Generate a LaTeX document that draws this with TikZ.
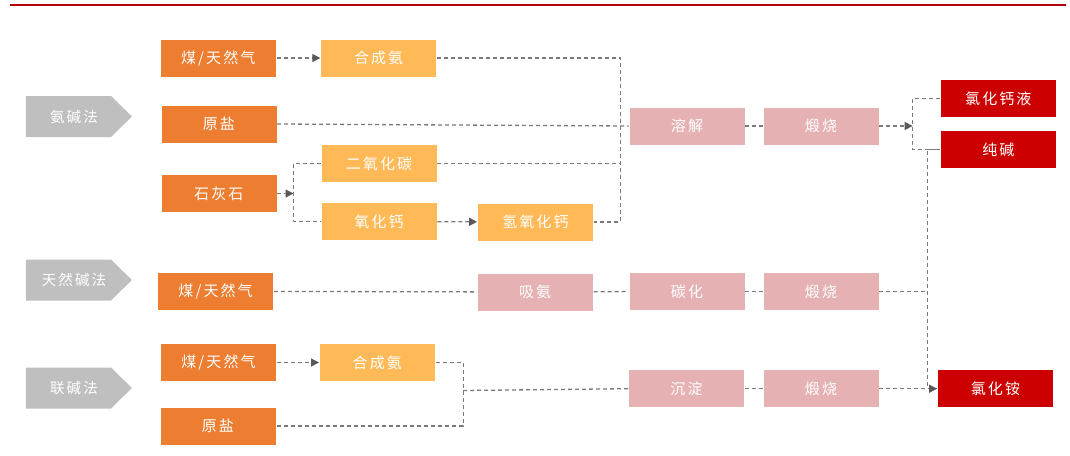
\documentclass[tikz,border=0pt]{standalone}
\usepackage{fontspec}
\newfontfamily\cjk[LetterSpace=14]{Noto Sans CJK SC}
\usetikzlibrary{arrows.meta}
\definecolor{cOrange}{HTML}{ED7D31}
\definecolor{cLight}{HTML}{FFB957}
\definecolor{cPink}{HTML}{E5B1B3}
\definecolor{cRed}{HTML}{CC0000}
\definecolor{cGray}{HTML}{BFBFBF}
\definecolor{cLine}{HTML}{7A7A7A}
\definecolor{cTip}{HTML}{595959}
\definecolor{cTop}{HTML}{B3000A}
\tikzset{
  box/.style={draw=white, line width=0.6pt, minimum width=116pt, minimum height=38pt,
    inner sep=0pt, text=white, font=\cjk\fontsize{15}{17}\selectfont},
  obox/.style={box, fill=cOrange},
  lbox/.style={box, fill=cLight},
  pbox/.style={box, fill=cPink},
  rbox/.style={box, fill=cRed},
  chevtext/.style={text=white, font=\cjk\fontsize{14.5}{16}\selectfont, inner sep=0pt},
  conn/.style={draw=cLine, line width=1.3pt, dash pattern=on 4pt off 3pt},
  arr/.style={conn, -{Triangle[length=8pt,width=8pt,color=cTip]}},
}
\begin{document}
\begin{tikzpicture}[x=1pt,y=-1pt]
\useasboundingbox (0,0) rectangle (1070,455);
% top rule
\draw[cTop, line width=2.6pt] (10,5) -- (1066,5);
% chevrons
\foreach \yc in {116.5, 280, 388}{
  \fill[cGray] (25.8,\yc-20.5) -- (111,\yc-20.5) -- (131.9,\yc) -- (111,\yc+20.5) -- (25.8,\yc+20.5) -- cycle;
}
\node[chevtext] (m1) at (74,116.5) {氨碱法};
\node[chevtext] (m2) at (74,280) {天然碱法};
\node[chevtext] (m3) at (74,388) {联碱法};
% row A
\node[obox] (a1) at (218.3,58) {煤/天然气};
\node[lbox] (a2) at (378.6,58) {合成氨};
\node[obox] (a3) at (218.8,124) {原盐};
\node[lbox] (a4) at (379,163.5) {二氧化碳};
\node[obox] (a5) at (218.8,193.5) {石灰石};
\node[lbox] (a6) at (379,221.5) {氧化钙};
\node[lbox] (a7) at (535.4,222) {氢氧化钙};
\node[pbox] (a8) at (687,126) {溶解};
\node[pbox] (a9) at (821,126) {煅烧};
\node[rbox] (r1) at (998.3,98.5) {氯化钙液};
\node[rbox] (r2) at (998.3,149.5) {纯碱};
% row B
\node[obox] (b1) at (215.6,291.3) {煤/天然气};
\node[pbox] (b2) at (535.2,292) {吸氨};
\node[pbox] (b3) at (687,291.3) {碳化};
\node[pbox] (b4) at (821,291.3) {煅烧};
% row C
\node[obox] (c1) at (218.5,362.5) {煤/天然气};
\node[lbox] (c2) at (377.3,362.5) {合成氨};
\node[obox] (c3) at (217.8,426) {原盐};
\node[pbox] (c4) at (686.5,388.7) {沉淀};
\node[pbox] (c5) at (821,388.7) {煅烧};
\node[rbox] (r3) at (995.4,388.7) {氯化铵};
% coordinates
\coordinate (ja) at (620.6,126);
\coordinate (jl) at (293.5,193.5);
\coordinate (jr) at (912.6,126);
\coordinate (jn) at (927.7,291.3);
\coordinate (jc) at (463.2,390.5);
% connectors row A
\draw[arr] (a1) -- (a2);
\draw[conn] (a2.east) -| (ja) |- (a7.east);
\draw[conn] (a3.east) -- (a8.west);
\draw[conn] (a4.east) -- (a4.east -| ja);
\draw[arr] (a5.east) -- (jl);
\draw[conn] (a4.west) -| (jl) |- (a6.west);
\draw[arr] (a6) -- (a7);
\draw[conn] (a8) -- (a9);
\draw[arr] (a9.east) -- (jr);
\draw[conn] (r1.west) -| (jr) |- (r2.west);
% row B
\draw[conn] (b1) -- (b2);
\draw[conn] (b2) -- (b3);
\draw[conn] (b3) -- (b4);
\draw[conn] (b4.east) -- (jn);
\draw[conn] (r2.west) -| (jn) |- (r3.west);
% row C
\draw[arr] (c1) -- (c2);
\draw[conn] (c2.east) -| (jc) |- (c3.east);
\draw[conn] (jc) -- (c4.west);
\draw[conn] (c4) -- (c5);
\draw[arr] (c5) -- (r3);
\end{tikzpicture}
\end{document}
